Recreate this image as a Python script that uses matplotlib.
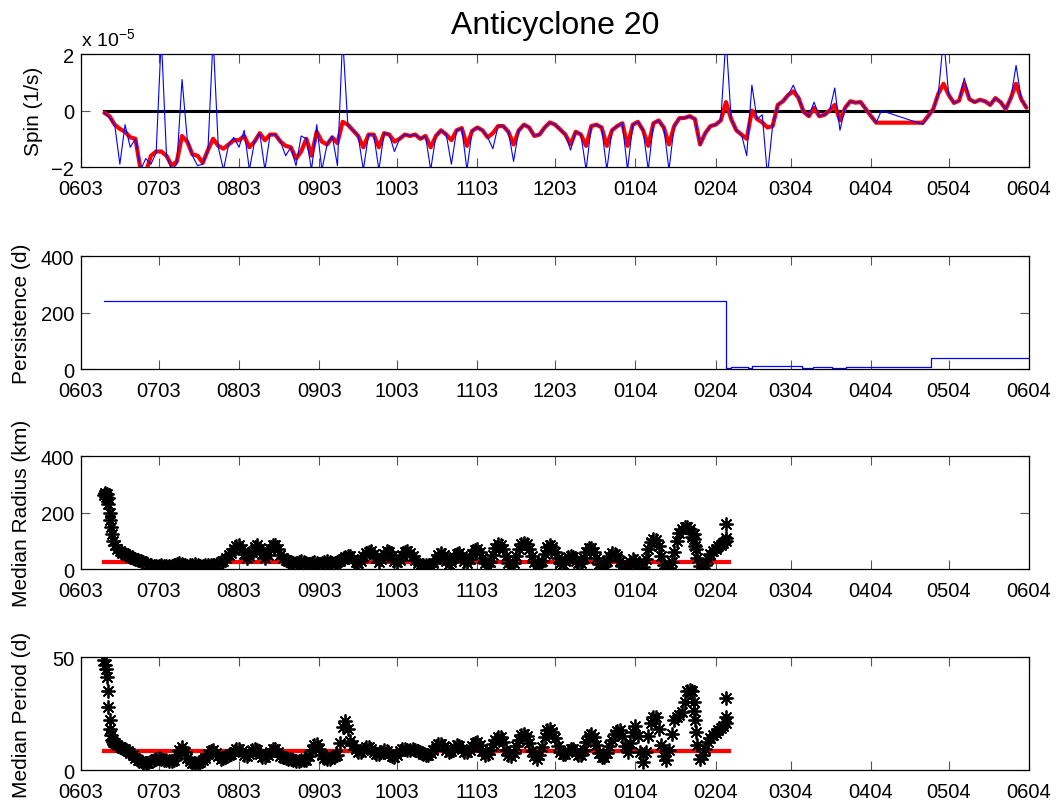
import numpy as np
import matplotlib.pyplot as plt

plt.rcParams['font.family'] = ['Liberation Sans', 'DejaVu Sans']
plt.rcParams['mathtext.fontset'] = 'custom'
plt.rcParams['mathtext.rm'] = 'Liberation Sans'
plt.rcParams['mathtext.default'] = 'regular'

# time axis: days since 1 June 2003, ticks at first of each month
month_days = [0, 30, 61, 92, 122, 153, 183, 214, 245, 274, 305, 335, 366]
month_labels = ['0603', '0703', '0803', '0903', '1003', '1103', '1203',
                '0104', '0204', '0304', '0404', '0504', '0604']

# spin (units of 1e-5 1/s), every 2 days from day 9 to 365
spin_days = np.arange(9, 366, 2)
spin_smooth = [
    -0.08, -0.2, -0.5, -0.65, -0.75, -0.95, -1.0, -2.1, -2.2, -1.6,
    -1.45, -1.45, -1.6, -1.95, -1.8, -0.9, -1.1, -1.55, -1.6, -1.85,
    -1.4, -1.0, -1.25, -1.35, -1.2, -1.05, -1.05, -0.9, -1.3, -1.1,
    -0.8, -1.05, -0.85, -0.85, -1.1, -1.25, -1.3, -1.7, -1.45, -1.0,
    -1.6, -0.75, -1.1, -1.2, -0.95, -1.15, -0.4, -0.5, -0.7, -0.9,
    -1.3, -0.85, -0.85, -1.3, -0.8, -0.85, -1.1, -1.0, -0.85, -0.9,
    -0.85, -1.0, -0.9, -1.3, -0.9, -0.7, -0.85, -1.05, -0.7, -0.62,
    -1.25, -0.72, -0.6, -0.7, -0.95, -0.8, -0.55, -0.55, -0.75, -1.2,
    -0.7, -0.5, -0.6, -0.9, -0.85, -0.6, -0.42, -0.5, -0.67, -0.85,
    -1.2, -0.75, -0.85, -1.25, -0.55, -0.5, -0.6, -1.25, -0.7, -0.55,
    -0.45, -1.25, -0.5, -0.4, -0.7, -1.25, -0.45, -0.35, -0.6, -1.2,
    -0.55, -0.27, -0.26, -0.2, -0.3, -1.2, -0.8, -0.55, -0.5, -0.35,
    0.3, -0.3, -0.7, -0.85, -1.0, 0.0, -0.3, -0.42, -0.6, -0.55,
    0.2, 0.33, 0.55, 0.68, 0.45, -0.05, -0.2, 0.1, -0.2, -0.15,
    0.0, 0.2, -0.35, 0.1, 0.33, 0.28, 0.3, 0.05, -0.2, -0.43,
    -0.43, -0.43, -0.43, -0.43, -0.43, -0.43, -0.43, -0.43, -0.43, -0.2,
    0.05, 0.6, 0.95, 0.55, 0.27, 0.35, 0.95, 0.4, 0.3, 0.38,
    0.33, 0.2, 0.44, 0.3, 0.05, 0.45, 0.95, 0.4, 0.1]
nan = np.nan
spin_raw = [
    -0.08, -0.25, -0.5, -1.9, -0.5, -1.3, -1.0, -2.1, -1.7, -1.9,
    -1.5, 2.6, -1.6, -2.1, -1.9, 1.1, -1.0, -1.6, -1.95, -1.9,
    -1.4, 2.6, -1.3, -2.1, -1.2, -0.95, -1.3, -0.7, -2.1, -1.1,
    -0.8, -2.1, -0.85, -0.85, -1.1, -1.6, -1.3, -1.95, -0.9, -1.0,
    -2.1, -0.5, -2.1, -1.2, -0.9, -1.95, 2.6, -0.5, -0.7, -0.9,
    -2.1, -0.85, -0.85, -2.1, -0.8, -0.85, -1.45, -1.0, -0.85, -0.9,
    -0.85, -1.0, -0.9, -2.1, -0.9, -0.7, -0.85, -1.9, -0.7, -0.62,
    -2.1, -0.72, -0.6, -0.7, -0.95, -1.35, -0.55, -0.55, -0.75, -1.8,
    -0.7, -0.5, -0.6, -0.9, -0.85, -0.6, -0.42, -0.5, -0.67, -0.85,
    -1.4, -0.75, -0.85, -2.1, -0.55, -0.5, -0.6, -2.1, -0.7, -0.55,
    -0.45, -2.1, -0.5, -0.4, -0.7, -2.1, -0.45, -0.35, -0.6, -2.1,
    -0.55, -0.27, -0.26, -0.2, -0.3, -1.2, -0.8, -0.55, -0.5, -0.35,
    2.6, -0.3, -0.7, -0.85, -1.6, 0.9, -0.3, -0.15, -2.3, -0.55,
    0.2, 0.33, 0.55, 0.9, 0.45, -0.05, -0.2, 0.3, -0.2, -0.15,
    0.0, 0.8, -0.7, 0.1, 0.33, 0.28, 0.3, 0.05, -0.2, -0.43,
    0.0, nan, nan, nan, nan, nan, nan, nan, -0.49, -0.2,
    0.05, 0.6, 2.6, 0.55, 0.27, 0.35, 1.15, 0.4, 0.3, 0.38,
    0.33, 0.2, 0.44, 0.3, 0.05, 0.45, 1.6, 0.4, 0.1]

# persistence (d), step values
pers_days = [9, 249, 251, 257.5, 259, 278.5, 282.5, 290, 295.5, 328, 366]
pers_vals = [240, 3, 8, 2, 12, 2, 8, 3, 8, 38, 38]

# median radius (km) and period (d)
early_t = [9.0, 9.3, 9.6, 10.0, 10.3, 10.6, 11.0, 11.3, 11.6, 12.0, 12.5]
late_t = [236.5, 236.8, 237.3, 249.0, 249.0]
daily_t = np.arange(13, 250)

rad_early = [262, 270, 255, 265, 250, 230, 200, 175, 150, 125, 100]
rad_late = [125, 105, 70, 111, 160]
rad_daily = [
    85, 72, 65, 58, 52, 48, 44, 40, 36, 32,
    28, 24, 20, 16, 13, 11, 10, 12, 14, 12,
    10, 9, 11, 14, 17, 20, 18, 15, 12, 13,
    16, 18, 15, 12, 10, 13, 16, 15, 13, 16,
    20, 24, 30, 38, 48, 58, 70, 80, 84, 72,
    55, 40, 45, 62, 78, 84, 75, 55, 38, 48,
    70, 85, 86, 70, 50, 38, 32, 28, 25, 22,
    20, 24, 28, 24, 20, 18, 22, 26, 22, 18,
    20, 25, 28, 24, 20, 22, 26, 30, 36, 42,
    47, 45, 35, 25, 22, 30, 45, 56, 62, 64,
    55, 38, 24, 35, 52, 64, 60, 45, 30, 24,
    32, 48, 60, 64, 58, 45, 32, 22, 16, 14,
    14, 12, 12, 20, 35, 50, 56, 48, 30, 17,
    25, 42, 54, 56, 45, 28, 20, 35, 55, 66,
    70, 60, 40, 20, 12, 25, 50, 75, 87, 85,
    70, 45, 22, 12, 20, 45, 70, 88, 93, 88,
    70, 45, 25, 14, 12, 28, 55, 78, 84, 78,
    60, 38, 22, 18, 28, 42, 46, 42, 30, 20,
    22, 40, 62, 76, 76, 62, 40, 18, 6, 10,
    28, 45, 56, 55, 45, 28, 12, 5, 10, 25,
    35, 30, 10, 2, 8, 35, 70, 95, 105, 102,
    80, 45, 15, 2, 5, 25, 60, 100, 128, 143,
    150, 148, 140, 115, 80, 40, 10, 5, 15, 35,
    55, 65, 72, 80, 86, 92, 100]
rad_median = 24

per_early = [48.5, 46.5, 44.5, 41, 35, 28, 22, 18, 15.5, 13.5, 12.5]
per_late = [30, 26, 17, 23.3, 32]
per_daily = [
    12, 11, 10.2, 9.8, 9.2, 8.4, 7.5, 6.5, 5.5, 4.6,
    3.8, 3.0, 2.9, 3.3, 3.8, 4.5, 5.0, 5.2, 4.8, 4.5,
    4.6, 4.2, 3.8, 4.5, 6.5, 9.0, 10.2, 8.0, 5.5, 4.0,
    3.2, 2.9, 3.0, 3.6, 4.5, 5.5, 7.0, 8.3, 8.7, 7.5,
    6.0, 5.0, 5.2, 6.0, 6.6, 7.0, 8.0, 9.2, 9.5, 8.5,
    6.8, 6.0, 7.0, 8.8, 9.5, 8.8, 7.0, 5.8, 5.6, 6.5,
    8.2, 9.4, 9.2, 7.8, 6.4, 5.8, 5.4, 5.0, 4.8, 4.5,
    4.2, 4.0, 4.3, 4.5, 4.4, 6.0, 9.0, 11.0, 11.7, 9.5,
    6.5, 5.2, 5.0, 5.1, 5.6, 6.2, 6.6, 12, 19, 21.9,
    18, 13, 11.2, 9.5, 8.2, 8.0, 9.0, 10, 10.2, 9.5,
    8.0, 7.0, 7.2, 8.0, 8.7, 8.5, 7.2, 6.0, 5.8, 6.8,
    8.5, 9.5, 9.4, 8.8, 9.0, 9.5, 9.0, 8.5, 8.0, 7.2,
    6.6, 6.6, 7.5, 9.0, 10.5, 11.5, 11.7, 10.5, 8.8, 8.0,
    8.6, 10.0, 10.9, 10.5, 9.2, 8.0, 7.8, 9.0, 10.8, 12.0,
    12.4, 11.0, 8.5, 6.6, 7.0, 9.0, 11.5, 13.5, 14.5, 14.6,
    12.5, 9.0, 6.5, 6.0, 7.5, 10.5, 13.5, 15.5, 16.0, 15.0,
    12.0, 8.5, 6.0, 5.1, 6.5, 10.0, 14.5, 17.5, 18.2, 17.0,
    14.0, 10.5, 8.0, 7.3, 7.3, 8.5, 9.5, 9.5, 8.0, 6.5,
    6.8, 9.0, 12.5, 15.0, 16.0, 14.5, 11.0, 7.5, 5.8, 5.8,
    7.5, 10.5, 13.5, 16.0, 17.2, 17.5, 15.0, 10.5, 8.0, 12.0,
    17.0, 19.7, 15.0, 8.0, 3.6, 8.0, 15.0, 21.0, 23.5, 23.3,
    18.0, 11.0, 6.0, 4.4, 9.0, 16.0, 22.0, 23.5, 24.5, 25.5,
    30.0, 35.0, 35.5, 35.0, 22.0, 11.0, 5.1, 6.5, 9.5, 12.4,
    14.0, 15.5, 16.5, 17.5, 18.5, 19.7, 21.0]
per_median = 8.3

track_start, track_end = 9, 250

fig = plt.figure(figsize=(10.59, 8.04), dpi=100)
left, width, height = 0.0765, 0.8952, 0.1405
bottoms = [0.791, 0.5398, 0.2910, 0.0410]
axes = [fig.add_axes([left, b, width, height]) for b in bottoms]

asterisk = (8, 2, 0)
star_style = dict(linestyle='none', marker=asterisk, ms=10, mec='k', mew=1.3, zorder=3)

ax = axes[0]
ax.plot([spin_days[0], 366], [0, 0], color='k', lw=2.2, zorder=2)
ax.plot(spin_days, spin_smooth, color='r', lw=3.0, zorder=3,
        solid_joinstyle='round', solid_capstyle='round')
raw = np.array(spin_raw)
ok = ~np.isnan(raw)
ax.plot(spin_days[ok], raw[ok], color='b', lw=0.8, zorder=4)
ax.set_ylim(-2, 2)
ax.set_yticks([-2, 0, 2])
ax.set_ylabel('Spin (1/s)')
fig.text(81 / 1059, 1 - 46 / 804, r'x 10$^{-5}$', fontsize=14, ha='left', va='baseline')
fig.text(555 / 1059, 1 - 34 / 804, 'Anticyclone 20', fontsize=23, ha='center', va='baseline')

ax = axes[1]
ax.plot(pers_days, pers_vals, color='b', lw=0.9, drawstyle='steps-post')
ax.set_ylim(0, 400)
ax.set_yticks([0, 200, 400])
ax.set_ylabel('Persistence (d)')

ax = axes[2]
ax.plot([track_start, track_end], [rad_median, rad_median], color='r', lw=3, zorder=2)
for t, v in [(early_t, rad_early), (daily_t, rad_daily), (late_t, rad_late)]:
    ax.plot(t, v, **star_style)
ax.set_ylim(0, 400)
ax.set_yticks([0, 200, 400])
ax.set_ylabel('Median Radius (km)')

ax = axes[3]
ax.plot([track_start, track_end], [per_median, per_median], color='r', lw=3, zorder=2)
for t, v in [(early_t, per_early), (daily_t, per_daily), (late_t, per_late)]:
    ax.plot(t, v, **star_style)
ax.set_ylim(0, 50)
ax.set_yticks([0, 50])
ax.set_ylabel('Median Period (d)')

label_x = [-0.040, -0.053, -0.053, -0.053]
for ax, lx in zip(axes, label_x):
    ax.set_xlim(0, 366)
    ax.set_xticks(month_days)
    ax.set_xticklabels(month_labels)
    ax.tick_params(direction='in', top=True, right=True, length=6.5, width=0.8,
                   color='#555555', labelsize=14.5)
    ax.tick_params(axis='x', pad=8.5)
    ax.tick_params(axis='y', pad=5)
    for s in ax.spines.values():
        s.set_linewidth(0.9)
    ax.yaxis.label.set_fontsize(15)
    ax.yaxis.set_label_coords(lx, 0.5)

fig.savefig('out.png', dpi=100)
